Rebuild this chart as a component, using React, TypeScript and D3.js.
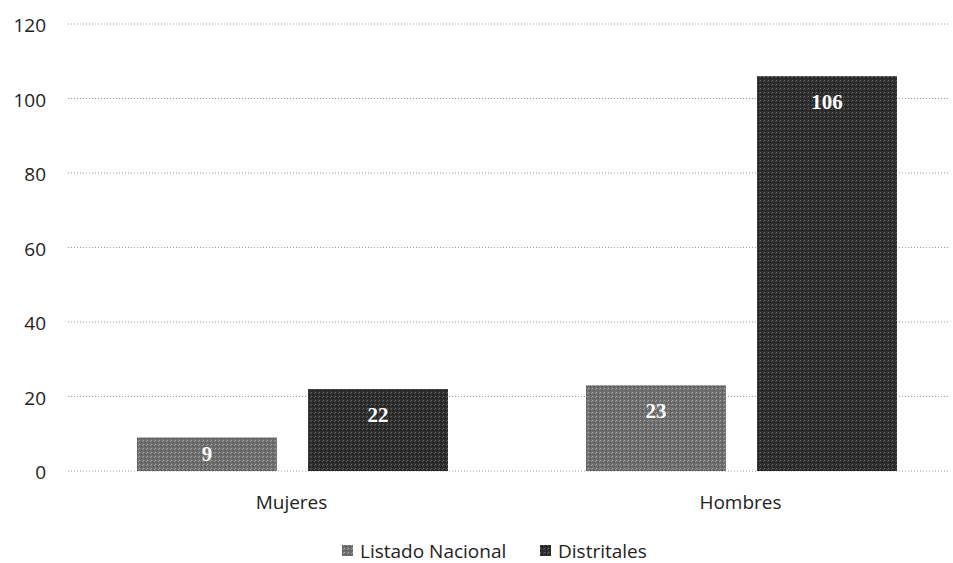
import React from "react";
import * as d3 from "d3";

const categories = ["Mujeres", "Hombres"];
const seriesNames = ["Listado Nacional", "Distritales"];
const listadoNacional = [9, 23];
const distritales = [22, 106];
const yTicks = [0, 20, 40, 60, 80, 100, 120];
const seriesColors = ["#6e6e6e", "#2e2e2e"];

const W = 953;
const H = 563;

export default function App() {
  const x = d3.scaleBand<string>().domain(categories).range([67, 965]).paddingInner(0).paddingOuter(0);
  const inner = d3.scaleBand<string>().domain(seriesNames).range([70, 381]).paddingInner(0.182);
  const y = d3.scaleLinear().domain([0, 120]).range([471, 24]);
  const series = [listadoNacional, distritales];
  const fontSans = "'Open Sans', 'Liberation Sans', sans-serif";
  const legendX = [342, 540];

  return (
    <svg width={W} height={H} style={{ position: "absolute", left: 0, top: 0, background: "#fff" }}>
      <defs>
        {seriesColors.map((c, i) => (
          <pattern key={i} id={`tex${i}`} width={4} height={4} patternUnits="userSpaceOnUse">
            <rect width={4} height={4} fill={c} />
            <rect x={0} y={0} width={1} height={1} fill={i === 0 ? "#a8a8a8" : "#6a6a6a"} />
            <rect x={2} y={2} width={1} height={1} fill={i === 0 ? "#4a4a4a" : "#111"} />
            <rect x={3} y={1} width={1} height={1} fill={i === 0 ? "#9a9a9a" : "#555"} />
          </pattern>
        ))}
      </defs>
      {yTicks.map((t) => (
        <g key={t}>
          <line x1={68} x2={950} y1={y(t)} y2={y(t)} stroke="#9a9a9a" strokeWidth={1} strokeDasharray="1,2" />
          <text x={46} y={y(t) + 8} textAnchor="end" fontFamily={fontSans} fontSize={19} fill="#222">
            {t}
          </text>
        </g>
      ))}
      {categories.map((cat, ci) => (
        <g key={cat} transform={`translate(${x(cat)},0)`}>
          {seriesNames.map((s, si) => {
            const v = series[si][ci];
            const bx = inner(s)!;
            const top = y(v);
            const h = y(0) - top;
            const ly = Math.min(top + 26, top + h / 2);
            return (
              <g key={s}>
                <rect x={bx} y={top} width={inner.bandwidth()} height={h} fill={`url(#tex${si})`} />
                <text
                  x={bx + inner.bandwidth() / 2}
                  y={ly + 7}
                  textAnchor="middle"
                  fontFamily="'Liberation Serif', 'DejaVu Serif', serif"
                  fontWeight="bold"
                  fontSize={21}
                  fill="#fff"
                >
                  {v}
                </text>
              </g>
            );
          })}
          <text x={x.bandwidth() / 2} y={509} textAnchor="middle" fontFamily={fontSans} fontSize={19} fill="#222">
            {cat}
          </text>
        </g>
      ))}
      {seriesNames.map((s, si) => {
        const lx = legendX[si];
        return (
          <g key={s}>
            <rect x={lx} y={545} width={11} height={11} fill={`url(#tex${si})`} />
            <text x={lx + 18} y={558} fontFamily={fontSans} fontSize={19} fill="#222">
              {s}
            </text>
          </g>
        );
      })}
    </svg>
  );
}
